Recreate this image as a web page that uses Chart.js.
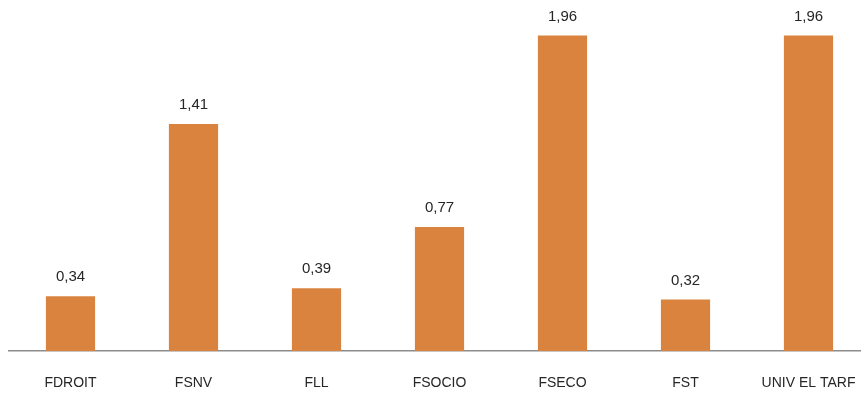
<!DOCTYPE html>
<html>
<head>
<meta charset="utf-8">
<script src="https://cdn.jsdelivr.net/npm/chart.js@4.4.1/dist/chart.umd.min.js"></script>
<style>
  html, body { margin: 0; padding: 0; background: #fff; overflow: hidden; }
  #wrap { width: 861px; height: 396px; overflow: hidden; }
</style>
</head>
<body>
<div id="wrap"><canvas id="chart" width="870" height="396"></canvas></div>
<script>
// categories and values
const categories = ['FDROIT', 'FSNV', 'FLL', 'FSOCIO', 'FSECO', 'FST', 'UNIV EL TARF'];
const values = [0.34, 1.41, 0.39, 0.77, 1.96, 0.32, 1.96];

const fontFamily = '"Liberation Sans", Arial, sans-serif';

// draws the value above every bar, with a comma as decimal mark
const valueLabels = {
    id: 'valueLabels',
    afterDatasetsDraw(chart) {
        const ctx = chart.ctx;
        const meta = chart.getDatasetMeta(0);
        ctx.save();
        ctx.font = '15px ' + fontFamily;
        ctx.fillStyle = '#262626';
        ctx.textAlign = 'center';
        ctx.textBaseline = 'middle';
        meta.data.forEach((bar, i) => {
            const txt = values[i].toFixed(2).replace('.', ',');
            ctx.fillText(txt, bar.x, bar.y - 19);
        });
        ctx.restore();
    }
};

const ctx = document.getElementById('chart').getContext('2d');
const chart = new Chart(ctx, {
    type: 'bar',
    data: {
        labels: categories,
        datasets: [{
            data: values,
            backgroundColor: '#DA833F',
            borderWidth: 0,
            barPercentage: 0.4,
            categoryPercentage: 1
        }]
    },
    options: {
        responsive: false,
        animation: false,
        layout: { padding: { top: 13, left: 9, right: 0, bottom: 0 } },
        plugins: {
            legend: { display: false },
            tooltip: { enabled: false }
        },
        scales: {
            x: {
                grid: { display: false, drawTicks: false },
                border: { display: true, color: '#8c8c8c', width: 1.5 },
                ticks: {
                    padding: 24,
                    color: '#262626',
                    font: { family: fontFamily, size: 14 },
                    maxRotation: 0,
                    autoSkip: false
                },
                afterFit(scale) {
                    scale.height = 45;
                    scale.paddingLeft = 0;
                    scale.paddingRight = 0;
                }
            },
            y: {
                display: false,
                min: 0,
                max: 2.1
            }
        }
    },
    plugins: [valueLabels]
});
</script>
</body>
</html>
